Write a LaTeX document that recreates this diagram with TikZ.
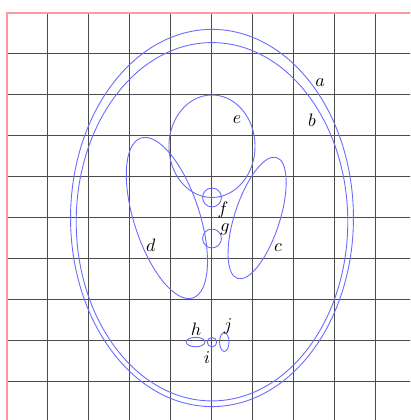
\documentclass[tikz,border=0pt]{standalone}
\definecolor{phantomblue}{rgb}{0.42,0.42,1}
\tikzset{
  % The 'gridline' style is for the square grid behind the phantom
  gridline/.style={draw=black!70, line width=0.55pt},
  % The 'edgeline' style is for the pink left and top border lines
  edgeline/.style={draw=red!40, line width=0.7pt},
  % The 'outline' style is for every ellipse of the phantom
  outline/.style={draw=phantomblue, line width=0.5pt},
  % The 'tag' style is for the letter that names an ellipse
  tag/.style={inner sep=0pt, anchor=center}
}

\begin{document}
\begin{tikzpicture}[x=4cm, y=4cm]

  % Fix the frame of the picture
  \useasboundingbox (-1.0341,-0.9854) rectangle (0.9659,1.0634);
  \clip (-1.0341,-0.9854) rectangle (0.9659,1.0634);

  % Draw the grid, one line every 0.2
  \foreach \k in {0,...,10} {
    \draw[gridline] (\k*0.2-1,-1.2) -- (\k*0.2-1,1);
    \draw[gridline] (-1,\k*0.2-1) -- (1.2,\k*0.2-1);
  }
  \draw[edgeline] (-1,-1.2) -- (-1,1) -- (1.2,1);

  % Outer skull ellipses
  \draw[outline] (0,0) ellipse (0.69 and 0.92); % a
  \draw[outline] (0,-0.0184) ellipse (0.6624 and 0.874); % b

  % The two tilted ellipses
  \draw[outline, rotate around={-18:(0.22,0)}] (0.22,0) ellipse (0.11 and 0.31); % c
  \draw[outline, rotate around={18:(-0.22,0)}] (-0.22,0) ellipse (0.16 and 0.41); % d

  % Upper ellipse and the two small circles
  \draw[outline] (0,0.35) ellipse (0.21 and 0.25); % e
  \draw[outline] (0,0.1) circle (0.046); % f
  \draw[outline] (0,-0.1) circle (0.046); % g

  % The three tiny ellipses at the bottom
  \draw[outline] (-0.08,-0.605) ellipse (0.046 and 0.023); % h
  \draw[outline] (0,-0.606) circle (0.023); % i
  \draw[outline] (0.06,-0.605) ellipse (0.023 and 0.046); % j

  % Letters naming the ellipses
  \node[tag] (label-a) at (0.527,0.659) {$a$};
  \node[tag] (label-b) at (0.488,0.478) {$b$};
  \node[tag] (label-c) at (0.322,-0.146) {$c$};
  \node[tag] (label-d) at (-0.298,-0.132) {$d$};
  \node[tag] (label-e) at (0.122,0.478) {$e$};
  \node[tag] (label-f) at (0.054,0.040) {$f$};
  \node[tag] (label-g) at (0.063,-0.056) {$g$};
  \node[tag] (label-h) at (-0.078,-0.541) {$h$};
  \node[tag] (label-i) at (-0.024,-0.683) {$i$};
  \node[tag] (label-j) at (0.078,-0.527) {$j$};

\end{tikzpicture}
\end{document}
